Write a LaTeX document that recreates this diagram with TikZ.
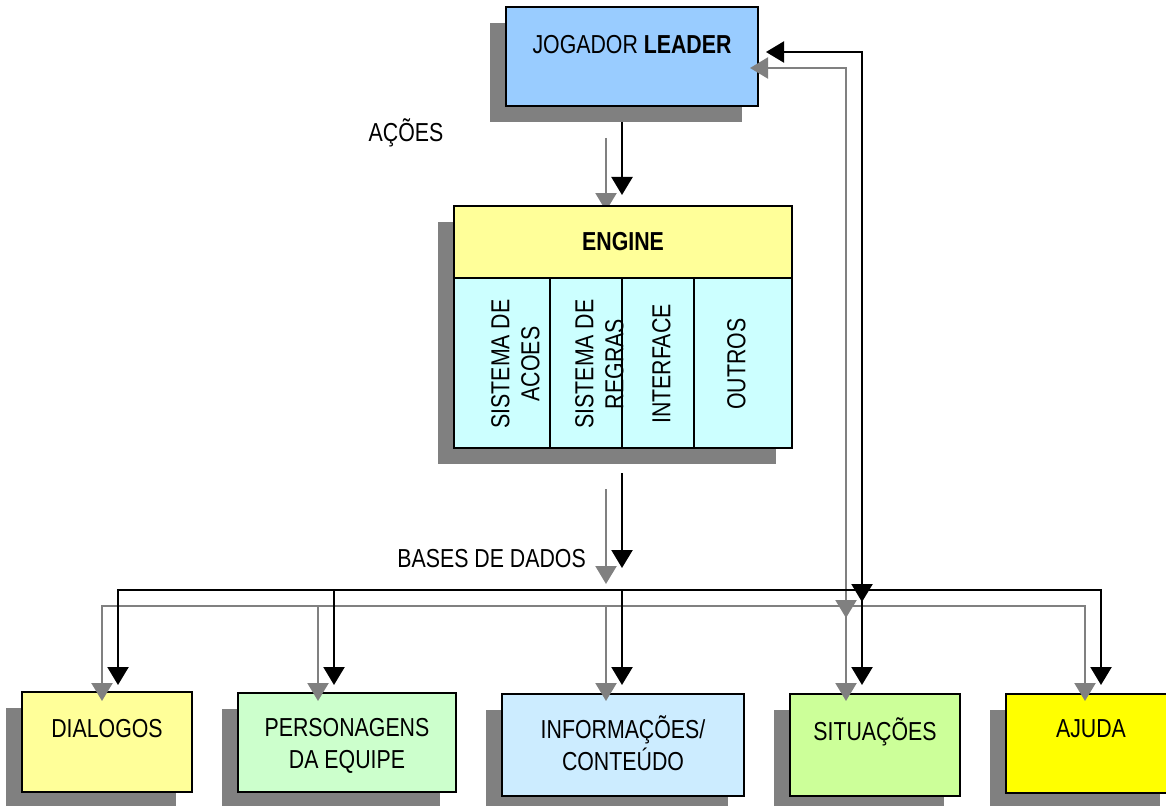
\documentclass[tikz,border=0pt]{standalone}
\usepackage{fontspec}
\setmainfont{Liberation Sans}[FakeStretch=0.82]
\usetikzlibrary{arrows.meta,shadows}

\definecolor{playerblue}{RGB}{153,204,255}
\definecolor{paleyellow}{RGB}{255,255,153}
\definecolor{palecyan}{RGB}{204,255,255}
\definecolor{palegreen}{RGB}{204,255,204}
\definecolor{paleblue}{RGB}{204,236,255}
\definecolor{limegreen}{RGB}{204,255,153}
\definecolor{brightyellow}{RGB}{255,255,0}
\definecolor{shadowgray}{RGB}{128,128,128}

\tikzset{
  box/.style={draw=black, line width=2.2pt, rectangle, inner sep=0pt, outer sep=0pt},
  shadowed/.style={drop shadow={shadow xshift=-16pt, shadow yshift=-16pt,
      fill=shadowgray, opacity=1}},
  lbl/.style={font=\fontsize{26}{31.5}\selectfont, inner sep=0pt, align=center},
  vlbl/.style={lbl, font=\fontsize{26}{30}\selectfont, rotate=90},
  wire/.style={line width=2.3pt, line join=miter, -{Triangle[width=21pt,length=18pt]}},
  twoway/.style={line width=2.3pt, line join=miter,
      {Triangle[width=21pt,length=18pt]}-{Triangle[width=21pt,length=18pt]}}
}

% the whole set of flows; #1 = colour, #2 = offset of the copy
\newcommand\flownet[2]{%
  \begin{scope}[color=#1]
    \draw[wire]   ([shift={#2}]jogout) -- ([shift={#2}]engin);
    \draw[wire]   ([shift={#2}]engout) -- ([shift={#2}]busin);
    \draw[twoway] ([shift={#2}]diain) -- ([shift={#2}]busL)
                  -- ([shift={#2}]busR) -- ([shift={#2}]ajuin);
    \draw[wire]   ([shift={#2}]perdrop) -- ([shift={#2}]perin);
    \draw[wire]   ([shift={#2}]infdrop) -- ([shift={#2}]infin);
    \draw[twoway] ([shift={#2}]jogin) -- ([shift={#2}]loopT) -- ([shift={#2}]sitin);
    \draw[wire]   ([shift={#2}]busmarkA) -- ([shift={#2}]busmark);
  \end{scope}%
}

\begin{document}
\begin{tikzpicture}[x=1pt,y=-1pt]
  \useasboundingbox (0,0) rectangle (1166,805);

  % player and the five databases
  \node[box, shadowed, fill=playerblue, minimum width=252pt, minimum height=99pt] (jog) at (632,56.5) {};
  \node[box, shadowed, fill=paleyellow, minimum width=170pt, minimum height=100pt] (dia) at (107,742) {};
  \node[box, shadowed, fill=palegreen, minimum width=218pt, minimum height=99pt] (per) at (347,742.5) {};
  \node[box, shadowed, fill=paleblue, minimum width=242pt, minimum height=102pt] (inf) at (623,745) {};
  \node[box, shadowed, fill=limegreen, minimum width=170pt, minimum height=102pt] (sit) at (875,745) {};
  \node[box, shadowed, fill=brightyellow, minimum width=170pt, minimum height=99pt] (aju) at (1091,743.5) {};

  \node[lbl, anchor=base] (jogt) at (632,54) {JOGADOR \textbf{LEADER}};
  \node[lbl, anchor=base] (diat) at (107,737) {DIALOGOS};
  \node[lbl, anchor=base] (pert) at (347,768) {PERSONAGENS\\DA EQUIPE};
  \node[lbl, anchor=base] (inft) at (623,770) {INFORMAÇÕES/\\CONTEÚDO};
  \node[lbl, anchor=base] (sitt) at (875,740) {SITUAÇÕES};
  \node[lbl, anchor=base] (ajut) at (1091,737) {AJUDA};

  \node[lbl, anchor=base] (acoes) at (406,142) {AÇÕES};
  \node[lbl, anchor=base east] (bases) at (586,567) {BASES DE DADOS};

  % flow end points
  \coordinate (jogout) at (622,122);
  \coordinate (engin) at (622,195);
  \coordinate (engout) at (622,473);
  \coordinate (busin) at (622,568);
  \coordinate (busL) at (118,590);
  \coordinate (busR) at (1101,590);
  \coordinate (perdrop) at (334,590);
  \coordinate (infdrop) at (622,590);
  \coordinate (diain) at (118,685);
  \coordinate (perin) at (334,685);
  \coordinate (infin) at (622,685);
  \coordinate (sitin) at (862,685);
  \coordinate (ajuin) at (1101,685);
  \coordinate (loopT) at (862,52);
  \coordinate (jogin) at (766,52);
  \coordinate (busmarkA) at (862,570);
  \coordinate (busmark) at (862,602);

  \flownet{shadowgray}{(-16,16)}
  \flownet{black}{(0,0)}

  % engine with its four subsystems
  \node[shadowed, fill=palecyan, inner sep=0pt, minimum width=338pt, minimum height=242pt] (eng) at (623,327) {};
  \node[box, fill=paleyellow, minimum width=338pt, minimum height=72pt] (enghead) at (623,242) {};
  \node[box, fill=palecyan, minimum width=96pt, minimum height=170pt] (c1) at (502,363) {};
  \node[box, fill=palecyan, minimum width=72pt, minimum height=170pt] (c2) at (586,363) {};
  \node[box, fill=palecyan, minimum width=72pt, minimum height=170pt] (c3) at (658,363) {};
  \node[box, fill=palecyan, minimum width=98pt, minimum height=170pt] (c4) at (743,363) {};

  \node[lbl, anchor=base] (engt) at (623,250) {\textbf{ENGINE}};
  \node[vlbl] (c1t) at (515.5,364) {SISTEMA DE\\ACOES};
  \node[vlbl] (c2t) at (599.5,364) {SISTEMA DE\\REGRAS};
  \node[vlbl] (c3t) at (661.5,364) {INTERFACE};
  \node[vlbl] (c4t) at (736.5,364) {OUTROS};
\end{tikzpicture}
\end{document}
